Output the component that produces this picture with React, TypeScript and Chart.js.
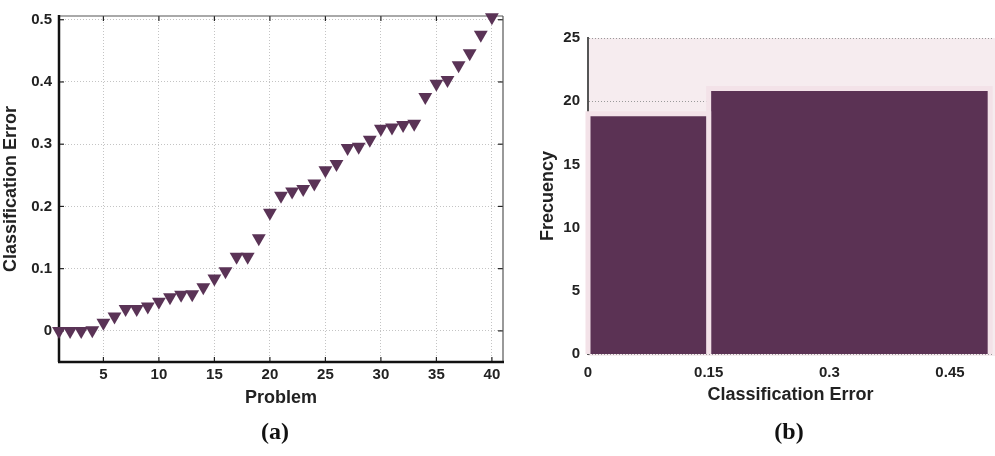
import React, { useEffect, useRef } from 'react';
import { Chart, registerables } from 'chart.js';

Chart.register(...registerables);

// ---- Data (a): classification error per problem ----
const problems = [
  1, 2, 3, 4, 5, 6, 7, 8, 9, 10, 11, 12, 13, 14, 15, 16, 17, 18, 19, 20,
  21, 22, 23, 24, 25, 26, 27, 28, 29, 30, 31, 32, 33, 34, 35, 36, 37, 38, 39, 40,
];
const classificationError = [
  0.0, 0.0, 0.0, 0.001, 0.013, 0.023, 0.035, 0.035, 0.039, 0.047,
  0.054, 0.058, 0.059, 0.07, 0.084, 0.096, 0.119, 0.119, 0.149, 0.19,
  0.217, 0.224, 0.228, 0.237, 0.258, 0.268, 0.294, 0.296, 0.307, 0.325,
  0.327, 0.331, 0.333, 0.376, 0.397, 0.403, 0.427, 0.446, 0.476, 0.504,
];
const problemTicks = [5, 10, 15, 20, 25, 30, 35, 40];
const errorTicks = [0, 0.1, 0.2, 0.3, 0.4, 0.5];
const errorTickLabels = ['0', '0.1', '0.2', '0.3', '0.4', '0.5'];

// ---- Data (b): histogram of classification error ----
const binEdges = [0, 0.15, 0.5];
const binCounts = [19, 21];
const freqTicks = [0, 5, 10, 15, 20, 25];
const freqTickLabels = ['0', '5', '10', '15', '20', '25'];
const binTicks = [0, 0.15, 0.3, 0.45];
const binTickLabels = ['0', '0.15', '0.3', '0.45'];

const FONT = '"Liberation Sans", Arial, Helvetica, sans-serif';
const MARK = '#5a3356';
const BAR = '#5b3254';
const BAR_EDGE = '#f3e2e8';
const PLOT_BG = '#f6ecef';
const GRID = '#c4c4c4';
const TEXT = '#222222';

const tickFont = { family: FONT, size: 15, weight: 'bold' as const };
const titleFont = { family: FONT, size: 18, weight: 'bold' as const };

const boxPlugin = {
  id: 'boxTicks',
  beforeDatasetsDraw(chart: any) {
    const { ctx, chartArea, scales } = chart;
    const { left, right, top, bottom } = chartArea;
    const x = scales.x;
    const y = scales.y;
    ctx.save();
    ctx.strokeStyle = '#222';
    ctx.lineWidth = 1.2;
    const seg = (x1: number, y1: number, x2: number, y2: number) => {
      ctx.beginPath();
      ctx.moveTo(x1, y1);
      ctx.lineTo(x2, y2);
      ctx.stroke();
    };
    problemTicks.forEach((v) => {
      const px = x.getPixelForValue(v);
      seg(px, bottom, px, bottom - 5);
      seg(px, top, px, top + 5);
    });
    errorTicks.forEach((v) => {
      const py = y.getPixelForValue(v);
      seg(left, py, left + 5, py);
      seg(right, py, right - 5, py);
    });
    ctx.strokeStyle = '#555';
    ctx.lineWidth = 1.2;
    seg(left, top, right, top);
    seg(right, top, right, bottom);
    ctx.strokeStyle = '#111';
    ctx.lineWidth = 2.5;
    seg(left, top - 1, left, bottom);
    seg(left - 1, bottom, right + 1, bottom);
    ctx.restore();
  },
};

const bgPlugin = {
  id: 'plotBg',
  beforeDraw(chart: any) {
    const { ctx, chartArea } = chart;
    ctx.save();
    ctx.fillStyle = PLOT_BG;
    ctx.fillRect(chartArea.left, chartArea.top, chartArea.right - chartArea.left + 2, chartArea.bottom - chartArea.top + 2);
    ctx.restore();
  },
};

function ChartA() {
  const ref = useRef<HTMLCanvasElement>(null);
  useEffect(() => {
    if (!ref.current) return;
    const chart = new Chart(ref.current, {
      type: 'scatter',
      data: {
        datasets: [
          {
            data: problems.map((p, i) => ({ x: p, y: classificationError[i] })),
            pointStyle: 'triangle',
            rotation: 180,
            pointRadius: 8,
            backgroundColor: MARK,
            borderWidth: 0,
            clip: false as any,
          } as any,
        ],
      },
      options: {
        responsive: false,
        animation: false,
        layout: { padding: { top: 14, right: 12, left: 0, bottom: 0 } },
        plugins: { legend: { display: false }, tooltip: { enabled: false } },
        scales: {
          x: {
            type: 'linear',
            min: 1,
            max: 41,
            afterBuildTicks: (s: any) => {
              s.ticks = problemTicks.map((v) => ({ value: v }));
            },
            afterFit: (s: any) => {
              s.height = 58;
            },
            grid: { color: GRID, lineWidth: 1, drawTicks: false },
            border: { display: false, dash: [1, 2] },
            ticks: { font: tickFont, color: TEXT, padding: 4, maxRotation: 0, autoSkip: false },
            title: { display: true, text: 'Problem', font: titleFont, color: TEXT, padding: { top: 0, bottom: 11 } },
          },
          y: {
            type: 'linear',
            min: -0.05,
            max: 0.506,
            afterBuildTicks: (s: any) => {
              s.ticks = errorTicks.map((v) => ({ value: v }));
            },
            afterFit: (s: any) => {
              s.width = 59;
            },
            grid: { color: GRID, lineWidth: 1, drawTicks: false },
            border: { display: false, dash: [1, 2] },
            ticks: {
              font: tickFont,
              color: TEXT,
              padding: 7,
              autoSkip: false,
              callback: (_v: any, i: number) => errorTickLabels[i],
            },
            title: { display: true, text: 'Classification Error', font: titleFont, color: TEXT, padding: { top: 0, bottom: 0 } },
          },
        },
      },
      plugins: [boxPlugin],
    } as any);
    return () => chart.destroy();
  }, []);
  return <canvas ref={ref} width={515} height={420} style={{ position: 'absolute', left: 0, top: 0 }} />;
}

function ChartB() {
  const ref = useRef<HTMLCanvasElement>(null);
  useEffect(() => {
    if (!ref.current) return;
    const datasets = binCounts.map((c, i) => ({
      data: [
        { x: binEdges[i], y: 0 },
        { x: binEdges[i], y: c },
        { x: binEdges[i + 1], y: c },
        { x: binEdges[i + 1], y: 0 },
      ],
      showLine: true,
      fill: 'origin',
      backgroundColor: BAR,
      borderColor: BAR_EDGE,
      borderWidth: 5,
      pointRadius: 0,
      tension: 0,
      clip: false as any,
    }));
    const chart = new Chart(ref.current, {
      type: 'scatter',
      data: { datasets: datasets as any },
      options: {
        responsive: false,
        animation: false,
        layout: { padding: { top: 38, right: 2, left: 0, bottom: 0 } },
        plugins: { legend: { display: false }, tooltip: { enabled: false } },
        scales: {
          x: {
            type: 'linear',
            min: 0,
            max: 0.5035,
            afterBuildTicks: (s: any) => {
              s.ticks = binTicks.map((v) => ({ value: v }));
            },
            afterFit: (s: any) => {
              s.height = 66;
            },
            grid: { display: false, drawTicks: false },
            border: { display: false },
            ticks: {
              font: tickFont,
              color: TEXT,
              padding: 10,
              maxRotation: 0,
              autoSkip: false,
              callback: (_v: any, i: number) => binTickLabels[i],
            },
            title: { display: true, text: 'Classification Error', font: titleFont, color: TEXT, padding: { top: 0, bottom: 14 } },
          },
          y: {
            type: 'linear',
            min: 0,
            max: 25,
            afterBuildTicks: (s: any) => {
              s.ticks = freqTicks.map((v) => ({ value: v }));
            },
            afterFit: (s: any) => {
              s.width = 68;
            },
            grid: { color: '#9a9a9a', lineWidth: 1, drawTicks: false },
            border: { display: true, color: '#555', width: 2, dash: [1, 2] },
            ticks: {
              font: tickFont,
              color: TEXT,
              padding: 8,
              autoSkip: false,
              callback: (_v: any, i: number) => freqTickLabels[i],
            },
            title: { display: true, text: 'Frecuency', font: titleFont, color: TEXT, padding: { top: 17, bottom: 0 } },
          },
        },
      },
      plugins: [bgPlugin],
    } as any);
    return () => chart.destroy();
  }, []);
  return <canvas ref={ref} width={475} height={420} style={{ position: 'absolute', left: 520, top: 0 }} />;
}

const captionStyle: React.CSSProperties = {
  position: 'absolute',
  top: 417,
  width: 80,
  textAlign: 'center',
  fontFamily: '"Liberation Serif", "Times New Roman", serif',
  fontWeight: 'bold',
  fontSize: 24,
  lineHeight: '28px',
  color: '#111',
};

export default function App() {
  return (
    <div style={{ position: 'absolute', left: 0, top: 0, width: 995, height: 456, background: '#fff', overflow: 'hidden' }}>
      <ChartA />
      <ChartB />
      <div style={{ ...captionStyle, left: 275 - 40 }}>(a)</div>
      <div style={{ ...captionStyle, left: 789 - 40 }}>(b)</div>
    </div>
  );
}
